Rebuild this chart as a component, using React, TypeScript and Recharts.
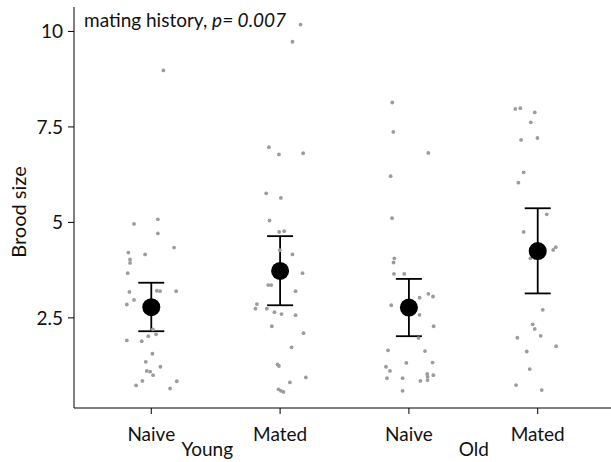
import { ScatterChart, Scatter, XAxis, YAxis, ErrorBar } from "recharts";

// x-axis categories and second-row group labels
const treatments = ["Naive", "Mated", "Naive", "Mated"];
const ages = ["Young", "Old"];
const yTicks = [2.5, 5, 7.5, 10];

// brood size per worm, with the horizontal jitter
const naiveYoungBrood = [8.98, 4.96, 5.08, 4.71, 4.34, 4.21, 4.16, 4.03, 3.94, 3.67, 3.18, 2.97, 2.85, 3.21, 3.2, 3.2, 2.2, 1.91, 1.89, 2.02, 2.07, 1.56, 1.35, 1.22, 1.11, 1.09, 1.0, 0.85, 0.73, 0.84, 0.65];
const naiveYoungJitter = [0.094, -0.134, 0.051, 0.051, 0.177, -0.178, -0.048, -0.165, -0.165, -0.183, -0.17, -0.134, -0.19, 0.043, 0.068, 0.193, 0.012, -0.19, -0.074, -0.023, 0.037, 0.009, -0.043, 0.071, -0.035, -0.009, 0.014, -0.069, -0.118, 0.198, 0.146];

const matedYoungBrood = [10.18, 9.73, 6.97, 6.78, 6.81, 5.76, 5.64, 5.05, 4.75, 4.77, 4.27, 4.16, 3.67, 3.36, 3.36, 3.2, 2.86, 2.74, 2.74, 2.65, 2.6, 2.57, 2.28, 2.1, 1.73, 1.28, 1.24, 0.94, 0.81, 0.63, 0.59, 0.56];
const matedYoungJitter = [0.159, 0.096, -0.087, -0.009, 0.179, -0.108, 0.006, -0.082, -0.007, 0.032, -0.002, 0.096, 0.174, -0.092, -0.069, 0.12, -0.18, -0.191, -0.103, -0.044, 0.011, 0.12, -0.064, 0.182, 0.089, -0.02, -0.009, 0.2, 0.076, -0.012, 0.006, 0.026];

const naiveOldBrood = [8.14, 7.37, 6.82, 6.21, 5.11, 4.06, 3.95, 3.65, 3.65, 3.03, 3.13, 3.06, 2.83, 2.58, 2.28, 1.97, 1.65, 1.63, 1.22, 1.11, 1.32, 1.33, 0.92, 0.92, 1.03, 0.96, 0.87, 0.85, 1.0, 0.59];
const naiveOldJitter = [-0.129, -0.121, 0.151, -0.142, -0.131, -0.113, -0.119, -0.116, -0.036, 0.083, 0.151, 0.187, -0.137, 0.083, 0.192, 0.075, -0.162, 0.125, -0.178, -0.147, -0.02, 0.184, -0.17, -0.049, 0.142, 0.145, 0.145, 0.089, 0.19, -0.049];

const matedOldBrood = [7.97, 7.99, 7.88, 7.62, 7.16, 7.21, 6.31, 6.04, 5.21, 4.75, 4.35, 4.28, 4.06, 2.71, 2.33, 2.21, 1.98, 2.03, 1.76, 1.62, 1.16, 0.74, 0.61];
const matedOldJitter = [-0.174, -0.135, -0.023, -0.054, -0.129, -0.002, -0.109, -0.15, 0.07, -0.109, 0.14, 0.12, -0.057, 0.039, -0.039, -0.023, -0.158, 0.023, 0.143, -0.085, -0.062, -0.168, 0.031];

// group means with lower / upper interval ends
const means = [2.78, 3.73, 2.77, 4.25];
const lower = [2.15, 2.83, 2.02, 3.14];
const upper = [3.42, 4.64, 3.52, 5.37];

const broods = [naiveYoungBrood, matedYoungBrood, naiveOldBrood, matedOldBrood];
const jitters = [naiveYoungJitter, matedYoungJitter, naiveOldJitter, matedOldJitter];

const points = broods.flatMap((vals, g) =>
  vals.map((v, i) => ({ x: g + 1 + jitters[g][i], y: v }))
);

const meanData = means.map((m, i) => ({
  x: i + 1,
  y: m,
  err: [m - lower[i], upper[i] - m],
}));

const FONT = "Lato, 'Open Sans', sans-serif";
const TEXT = "#111";

const GroupTick = (props: any) => {
  const { x, y, payload, index } = props;
  const shift = index === 0 ? 56 : 65;
  return (
    <g>
      <text x={x} y={y} dy={27} textAnchor="middle" fill={TEXT} fontSize={19}>
        {treatments[payload.value - 1]}
      </text>
      {index % 2 === 0 && (
        <text x={x + shift} y={y} dy={42} textAnchor="middle" fill={TEXT} fontSize={19}>
          {ages[index / 2]}
        </text>
      )}
    </g>
  );
};

const App = () => {
  return (
    <div
      style={{
        position: "absolute",
        left: 0,
        top: 0,
        width: 611,
        height: 462,
        overflow: "hidden",
        background: "#fff",
        fontFamily: FONT,
      }}
    >
      <ScatterChart
        width={615}
        height={462}
        margin={{ top: 7, right: 0, bottom: 0, left: 0 }}
      >
        <XAxis
          type="number"
          dataKey="x"
          domain={[0.4, 4.6]}
          ticks={[1, 2, 3, 4]}
          allowDataOverflow
          stroke="#000"
          tickSize={6}
          tickMargin={0}
          height={54}
          tick={<GroupTick />}
        />
        <YAxis
          type="number"
          dataKey="y"
          domain={[0.14, 10.64]}
          ticks={yTicks}
          allowDataOverflow
          width={74}
          stroke="#000"
          tickSize={6}
          tickMargin={5}
          tick={{ fill: TEXT, fontSize: 19 }}
          tickFormatter={(v) => String(v)}
        />
        <Scatter
          data={points}
          isAnimationActive={false}
          shape={(p: any) => <circle cx={p.cx} cy={p.cy} r={1.9} fill="#9c9c9c" />}
        />
        <Scatter
          data={meanData}
          isAnimationActive={false}
          shape={(p: any) => <circle cx={p.cx} cy={p.cy} r={9} fill="#000" />}
        >
          <ErrorBar
            dataKey="err"
            direction="y"
            width={13}
            stroke="#000"
            strokeWidth={1.8}
            isAnimationActive={false}
          />
        </Scatter>
      </ScatterChart>
      <div
        style={{
          position: "absolute",
          left: 84,
          top: 10,
          fontSize: 19,
          lineHeight: "19px",
          color: TEXT,
          whiteSpace: "nowrap",
        }}
      >
        mating history, <i>p= 0.007</i>
      </div>
      <div
        style={{
          position: "absolute",
          left: -42,
          top: 200,
          width: 120,
          height: 24,
          lineHeight: "24px",
          textAlign: "center",
          fontSize: 20,
          color: TEXT,
          transform: "rotate(-90deg)",
        }}
      >
        Brood size
      </div>
    </div>
  );
};

export default App;
